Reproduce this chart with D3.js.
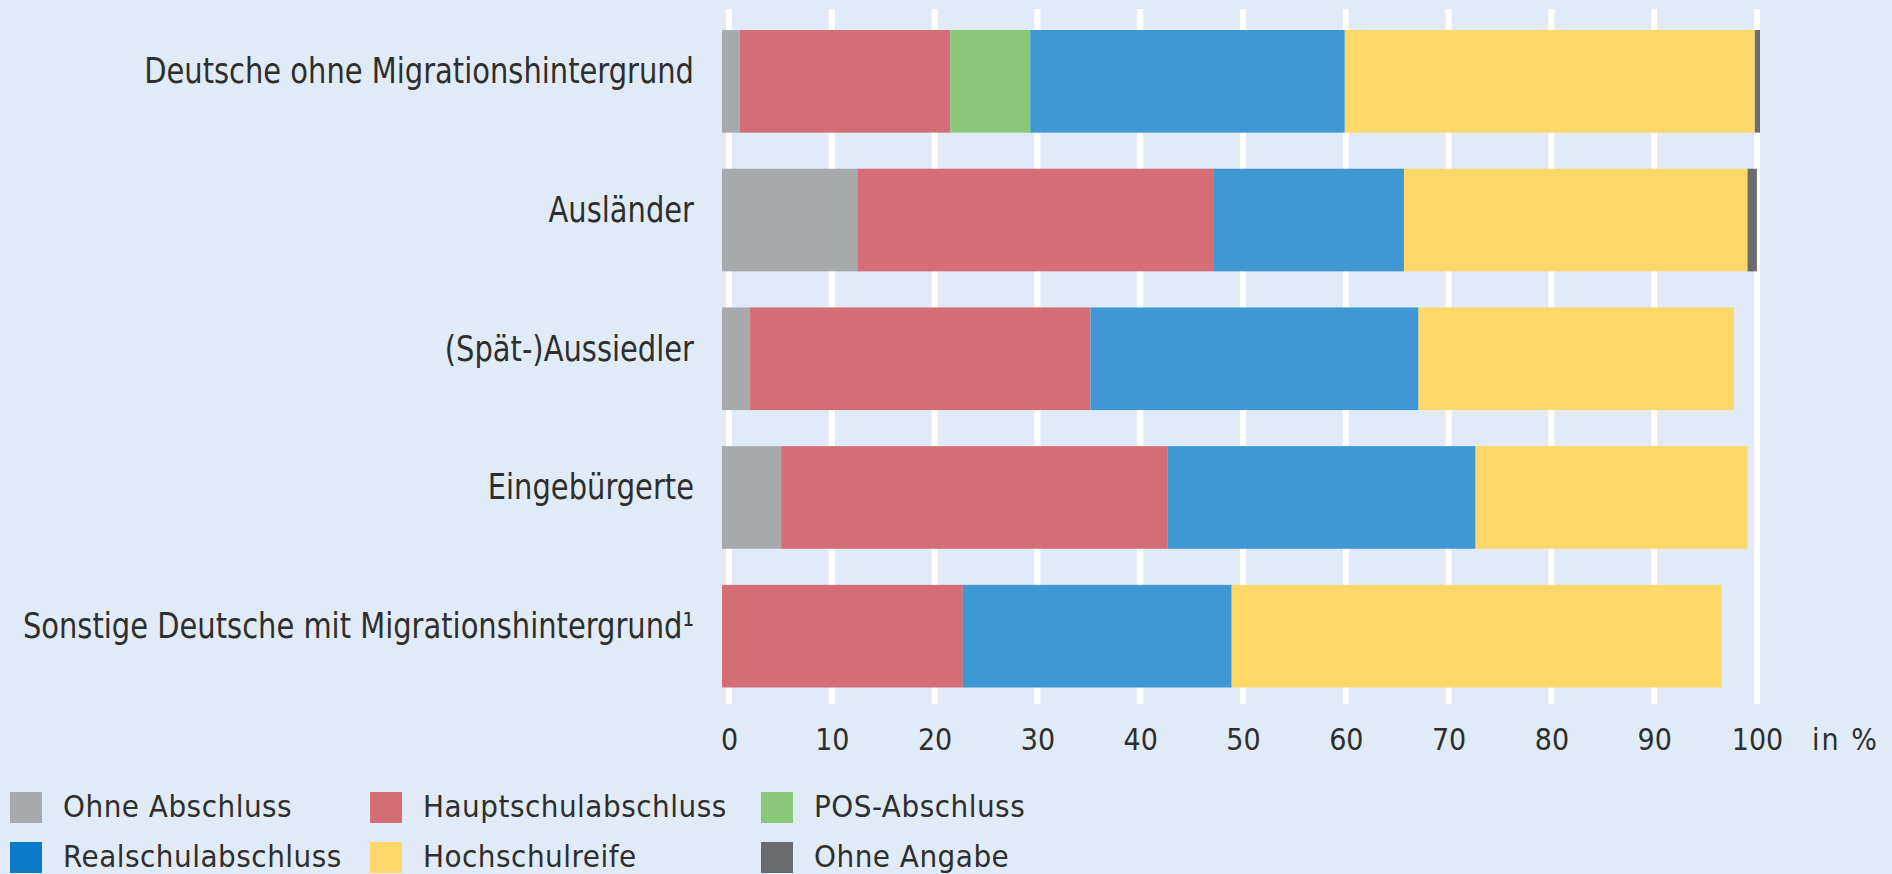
<!DOCTYPE html>
<meta charset="utf-8">
<head>
    <script src="https://cdn.jsdelivr.net/npm/d3@7"></script>
    <style>
        body { margin: 0; background: #e1ebf7; }
        text { font-family: "Liberation Sans Narrow", "DejaVu Sans Condensed", sans-serif; fill: #2e2e2e; }
    </style>
</head>
<body>
<svg id="chart" width="1892" height="874"></svg>
<script>

    // groups (top to bottom)
    var groups = [
        "Deutsche ohne Migrationshintergrund",
        "Ausländer",
        "(Spät-)Aussiedler",
        "Eingebürgerte",
        "Sonstige Deutsche mit Migrationshintergrund\u00b9"
    ];

    // share of each school leaving certificate, in %
    var ohneAbschluss   = [1.7, 13.1, 2.7, 5.7, 0];
    var hauptschule     = [20.3, 34.3, 32.8, 37.2, 23.2];
    var posAbschluss    = [7.7, 0, 0, 0, 0];
    var realschule      = [30.3, 18.3, 31.6, 29.7, 25.9];
    var hochschulreife  = [39.5, 33.1, 30.4, 26.2, 47.2];
    var ohneAngabe      = [0.5, 0.9, 0, 0, 0];

    var seriesNames = ["Ohne Abschluss", "Hauptschulabschluss", "POS-Abschluss",
                       "Realschulabschluss", "Hochschulreife", "Ohne Angabe"];
    var tickValues = [0, 10, 20, 30, 40, 50, 60, 70, 80, 90, 100];

    var barColors    = ["#a8a9ac", "#d56d76", "#8ac879", "#3f98d4", "#fed869", "#6b6c70"];
    var legendColors = ["#a8a9ac", "#d56d76", "#8ac879", "#0b7bc9", "#fed869", "#6b6c70"];

    var table = groups.map(function(g, i){
        return {
            group: g,
            "Ohne Abschluss": ohneAbschluss[i],
            "Hauptschulabschluss": hauptschule[i],
            "POS-Abschluss": posAbschluss[i],
            "Realschulabschluss": realschule[i],
            "Hochschulreife": hochschulreife[i],
            "Ohne Angabe": ohneAngabe[i]
        };
    });

    var svg = d3.select("#chart");

    var x = d3.scaleLinear().domain([0, 100]).range([722, 1760]);
    // the printed grid sits a touch inside the bar scale
    var xGrid = x.copy().range([729, 1757]);
    var y = d3.scaleBand().domain(groups).range([30, 687.5]).paddingInner(0.26).paddingOuter(0);

    // grid lines
    svg.append("g").selectAll("line")
        .data(tickValues)
        .enter().append("line")
        .attr("x1", function(d){ return xGrid(d); })
        .attr("x2", function(d){ return xGrid(d); })
        .attr("y1", 9)
        .attr("y2", 704)
        .attr("stroke", "#ffffff")
        .attr("stroke-width", 6);

    // stacked bars
    var stack = d3.stack().keys(seriesNames);
    var layers = stack(table);

    svg.append("g").selectAll("g")
        .data(layers)
        .enter().append("g")
        .attr("fill", function(d, i){ return barColors[i]; })
        .selectAll("rect")
        .data(function(d){ return d.filter(function(s){ return s[1] - s[0] > 0; }); })
        .enter().append("rect")
        .attr("x", function(d){ return x(d[0]); })
        .attr("width", function(d){ return x(d[1]) - x(d[0]); })
        .attr("y", function(d){ return y(d.data.group); })
        .attr("height", y.bandwidth());

    // category labels (squeezed a little, the print font is narrow)
    svg.append("g").selectAll("text")
        .data(groups)
        .enter().append("text")
        .attr("transform", function(d){
            return "translate(694," + (y(d) + y.bandwidth() / 2 + 2) + ") scale(0.92,1)";
        })
        .attr("text-anchor", "end")
        .style("font-size", "35px")
        .text(function(d){ return d; });

    // x axis tick labels
    var axis = d3.axisBottom(xGrid).tickValues(tickValues).tickSize(0).tickPadding(0);
    var ax = svg.append("g").attr("transform", "translate(0,728)").call(axis);
    ax.select(".domain").remove();
    ax.selectAll("text")
        .attr("dy", "0.72em")
        .attr("fill", null)
        .attr("font-family", null)
        .style("font-size", "30px");

    svg.append("text")
        .attr("x", 1812)
        .attr("y", 750)
        .style("font-size", "30px")
        .style("letter-spacing", "2px")
        .text("in %");

    // legend, 3 columns x 2 rows
    var legendCols = [10, 370, 761];
    var legendRows = [792, 842];
    var legend = svg.append("g").selectAll("g")
        .data(seriesNames)
        .enter().append("g")
        .attr("transform", function(d, i){
            return "translate(" + legendCols[i % 3] + "," + legendRows[Math.floor(i / 3)] + ")";
        });
    legend.append("rect")
        .attr("width", 32)
        .attr("height", 31)
        .attr("fill", function(d, i){ return legendColors[i]; });
    legend.append("text")
        .attr("x", 53)
        .attr("y", 25)
        .style("font-size", "31px")
        .style("letter-spacing", "0.5px")
        .text(function(d){ return d; });

</script>
</body>
